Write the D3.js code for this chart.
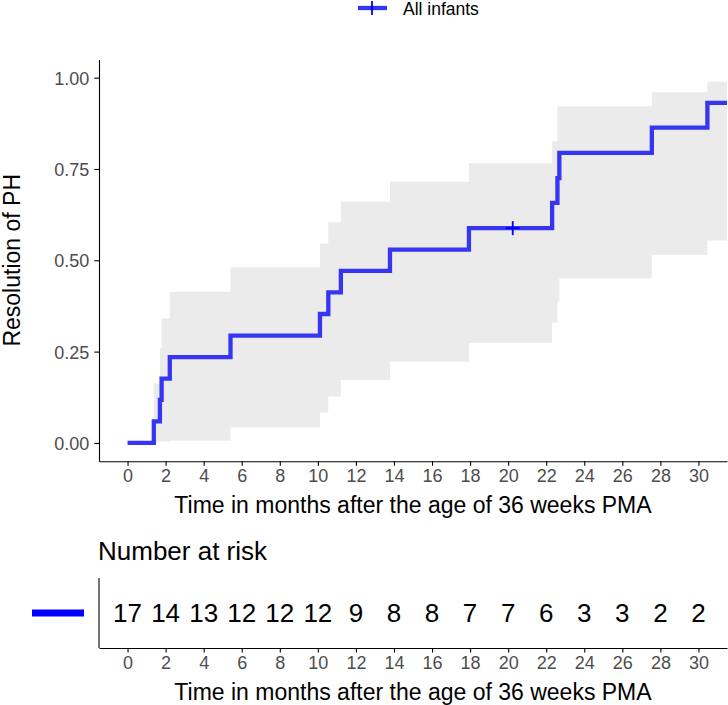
<!DOCTYPE html>
<html><head><meta charset="utf-8">
<script src="https://cdn.jsdelivr.net/npm/d3@7"></script>
<style>
html,body{margin:0;padding:0;background:#fff;}
svg{display:block;font-family:"Liberation Sans",Arial,Helvetica,sans-serif;}
</style></head>
<body>
<svg id="chart" width="728" height="705"></svg>
<script>
// ---- data ----
const times = [0, 1.38, 1.70, 1.79, 2.22, 5.41, 10.11, 10.55, 11.21, 13.79, 17.94, 22.31, 22.59, 22.69, 27.55, 30.47];
const estimate = [0, 0.059, 0.118, 0.176, 0.235, 0.294, 0.353, 0.412, 0.471, 0.529, 0.588, 0.657, 0.725, 0.794, 0.863, 0.931];
const lowerCI = [0, 0.003, 0.003, 0.003, 0.006, 0.042, 0.083, 0.127, 0.172, 0.222, 0.274, 0.330, 0.387, 0.451, 0.515, 0.554];
const upperCI = [0, 0.163, 0.259, 0.341, 0.414, 0.481, 0.545, 0.604, 0.660, 0.715, 0.766, 0.825, 0.922, 0.922, 0.960, 0.989];
const lastFollowUp = 31.5;
const censorTimes = [20.24];
const censorValues = [0.588];
const riskTimes = [0, 2, 4, 6, 8, 10, 12, 14, 16, 18, 20, 22, 24, 26, 28, 30];
const riskCounts = [17, 14, 13, 12, 12, 12, 9, 8, 8, 7, 7, 6, 3, 3, 2, 2];
const yTicks = [0, 0.25, 0.5, 0.75, 1.0];
const seriesName = "All infants";
const yTitle = "Resolution of PH";
const xTitle = "Time in months after the age of 36 weeks PMA";
const riskTitle = "Number at risk";

// ---- layout ----
const svg = d3.select("#chart");
const lineColor = "#3535f2";
const tickColor = "#4d4d4d";
const panelL = 99, panelR = 727;
const mainTop = 59.4, mainBot = 461.2;
const riskTop = 578, riskBot = 648;

const x = d3.scaleLinear().domain([-1.5, 31.5]).range([panelL, panelR]);
const y = d3.scaleLinear().domain([-0.05, 1.05]).range([mainBot, mainTop]);

const pts = times.map((t, i) => ({t, est: estimate[i], lo: lowerCI[i], hi: upperCI[i]}));
const lastPt = pts[pts.length - 1];
pts.push({t: lastFollowUp, est: lastPt.est, lo: lastPt.lo, hi: lastPt.hi});

// band
const area = d3.area().curve(d3.curveStepAfter)
  .x(d => x(d.t)).y0(d => y(d.lo)).y1(d => y(d.hi));
svg.append("path").datum(pts.slice(1)).attr("d", area)
  .attr("fill", "#ebebeb").attr("stroke", "none");

// step line
const line = d3.line().curve(d3.curveStepAfter).x(d => x(d.t)).y(d => y(d.est));
svg.append("path").datum(pts).attr("d", line)
  .attr("fill", "none").attr("stroke", lineColor).attr("stroke-width", 4.3)
  .attr("stroke-linejoin", "miter");

// censor marks
censorTimes.forEach((t, i) => {
  const cx = x(t), cy = y(censorValues[i]);
  svg.append("line").attr("x1", cx - 7).attr("x2", cx + 7).attr("y1", cy).attr("y2", cy)
    .attr("stroke", "#0000ff").attr("stroke-width", 1.8);
  svg.append("line").attr("x1", cx).attr("x2", cx).attr("y1", cy - 7).attr("y2", cy + 7)
    .attr("stroke", "#0000ff").attr("stroke-width", 1.8);
});

function styleAxis(g) {
  g.select(".domain").attr("stroke", "#000").attr("stroke-width", 1.1);
  g.selectAll(".tick line").attr("stroke", "#000").attr("stroke-width", 1.1);
  g.selectAll(".tick text").attr("fill", tickColor).attr("font-size", "18px")
    .attr("font-family", "Liberation Sans, Arial, sans-serif");
}

// main axes
const yAxis = d3.axisLeft(y).tickValues(yTicks).tickFormat(d3.format(".2f"))
  .tickSizeInner(4.7).tickSizeOuter(0).tickPadding(5);
svg.append("g").attr("transform", `translate(${panelL},0)`).call(yAxis).call(styleAxis)
  .selectAll(".tick text").attr("dy", "0.36em");

const xAxis = d3.axisBottom(x).tickValues(riskTimes).tickSizeInner(4.5).tickSizeOuter(0).tickPadding(4);
svg.append("g").attr("transform", `translate(0,${mainBot})`).call(xAxis).call(styleAxis);

svg.append("text").attr("x", (panelL + panelR) / 2).attr("y", 505).attr("dy", "0.35em")
  .attr("text-anchor", "middle").attr("font-size", "23px").attr("fill", "#000").text(xTitle);
svg.append("text").attr("transform", `translate(12,${(mainTop + mainBot) / 2}) rotate(-90)`)
  .attr("dy", "0.35em").attr("text-anchor", "middle").attr("font-size", "23px").attr("fill", "#000").text(yTitle);

// legend
const lg = svg.append("g").attr("transform", "translate(372,9)");
lg.append("line").attr("x1", -14).attr("x2", 15).attr("y1", -1).attr("y2", -1)
  .attr("stroke", lineColor).attr("stroke-width", 4.3);
lg.append("line").attr("x1", 0).attr("x2", 0).attr("y1", -8).attr("y2", 6)
  .attr("stroke", "#0000ff").attr("stroke-width", 1.8);
lg.append("text").attr("x", 31).attr("y", 0).attr("dy", "0.35em").attr("font-size", "17.5px")
  .attr("fill", "#000").text(seriesName);

// ---- risk table ----
svg.append("text").attr("x", 98).attr("y", 560).attr("font-size", "26px").attr("fill", "#000").text(riskTitle);
const yr = d3.scalePoint().domain([seriesName]).range([riskBot, riskTop]).padding(0.5);
svg.append("g").selectAll("text.risk").data(riskTimes).join("text")
  .attr("x", (d) => x(d)).attr("y", yr(seriesName)).attr("dy", "0.36em")
  .attr("text-anchor", "middle").attr("font-size", "26px").attr("fill", "#000")
  .text((d, i) => riskCounts[i]);

// risk y axis with colored key
svg.append("line").attr("x1", panelL).attr("x2", panelL).attr("y1", riskTop).attr("y2", riskBot)
  .attr("stroke", "#000").attr("stroke-width", 1.1);
svg.append("line").attr("x1", 32).attr("x2", 84).attr("y1", yr(seriesName)).attr("y2", yr(seriesName))
  .attr("stroke", "#0000ff").attr("stroke-width", 7);

const xAxis2 = d3.axisBottom(x).tickValues(riskTimes).tickSizeInner(4.5).tickSizeOuter(0).tickPadding(4);
svg.append("g").attr("transform", `translate(0,${riskBot})`).call(xAxis2).call(styleAxis);
svg.append("text").attr("x", (panelL + panelR) / 2).attr("y", 692).attr("dy", "0.35em")
  .attr("text-anchor", "middle").attr("font-size", "23px").attr("fill", "#000").text(xTitle);
</script>
</body></html>
